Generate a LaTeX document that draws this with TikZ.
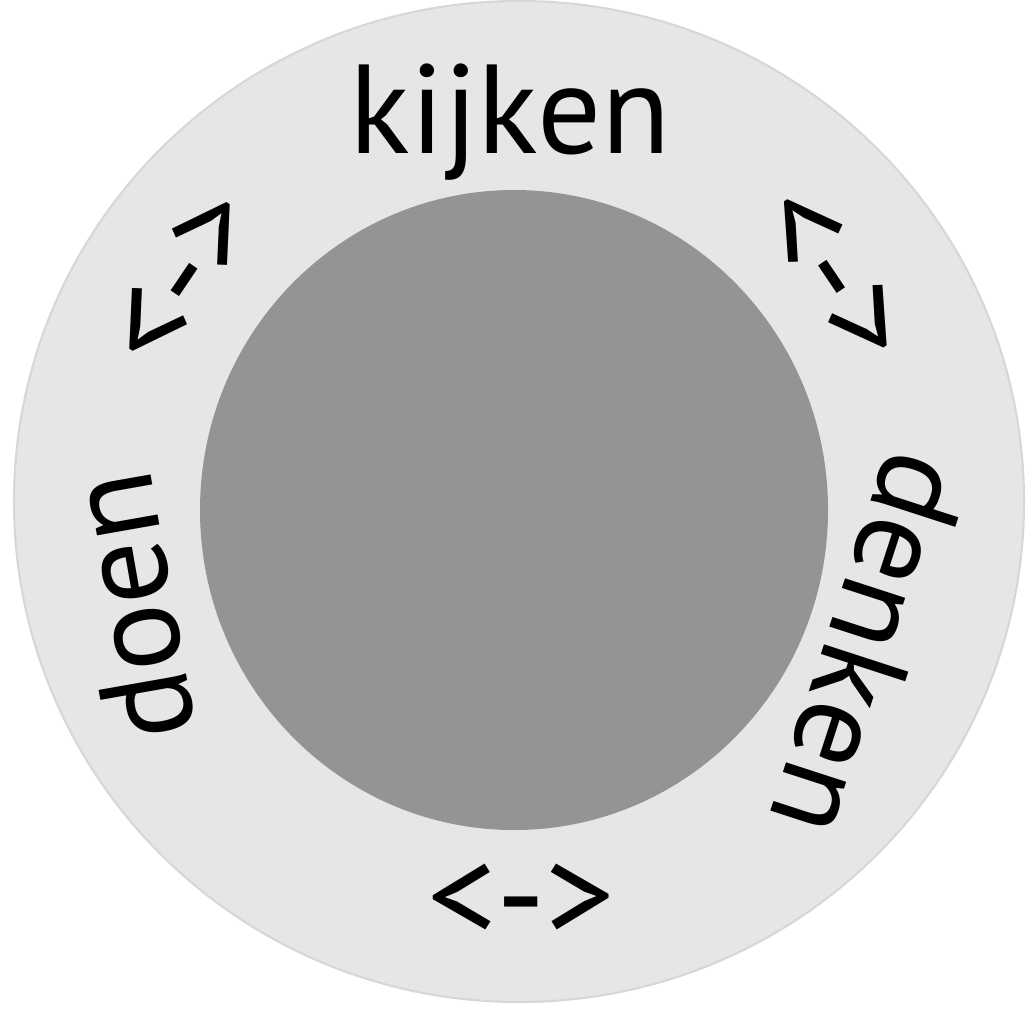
\documentclass[tikz,border=0pt]{standalone}
\usepackage{fontspec}
\setmainfont{PT Sans}
\usepackage{tikz}
\definecolor{ringgray}{RGB}{230,230,230}
\definecolor{ringedge}{RGB}{215,215,215}
\definecolor{coregray}{RGB}{149,147,149}

\begin{document}
\begin{tikzpicture}[x=0.01cm,y=-0.01cm,
  word/.style={inner sep=0pt,font=\fontsize{36}{40}\selectfont},
  twoway/.style={inner sep=0pt,font=\fontsize{39}{44}\selectfont}]
\useasboundingbox (0,0) rectangle (1028,1011);
\fill[ringgray,draw=ringedge,line width=0.6pt] (519,501.5) ellipse [x radius=505,y radius=500.5];
\fill[coregray] (514,510) ellipse [x radius=314,y radius=320];

\node[word] (kijken) at (510,122) {kijken};
\node[word,rotate=-108] (denken) at (870,645) {denken};
\node[word,rotate=100] (doen) at (130,607) {doen};

\node[twoway,rotate=56] (arrowL) at (185,280) {<->};
\node[twoway,rotate=-56] (arrowR) at (831,277) {<->};
\node[twoway] (arrowB) at (521,903) {<->};
\end{tikzpicture}
\end{document}
